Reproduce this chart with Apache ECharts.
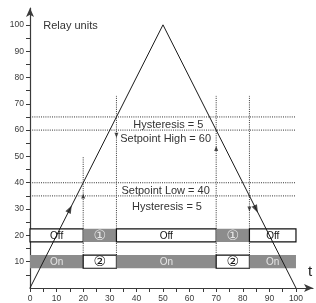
<!DOCTYPE html>
<html>
<head>
<meta charset="utf-8">
<script src="https://cdn.jsdelivr.net/npm/echarts@6/dist/echarts.min.js"></script>
<style>
  html, body { margin: 0; padding: 0; background: #fff; }
  #chart { width: 316px; height: 303px; }
</style>
</head>
<body>
<div id="chart"></div>
<script>
// triangle signal
const signalX = [0, 50, 100];
const signalY = [0, 100, 0];
// flow arrows on the signal
const flowX = [15, 85];
const flowY = [30, 30];
const flowDir = ['rise', 'fall'];

// dotted levels
const levels = [65, 60, 40, 35];
const levelEnd = 100;

// switching instants
const switchX = [20, 32.5, 70, 82.5];
const switchTop = [50, 73, 73, 73];
const switchBottom = 7.5;
// small hysteresis arrows on the verticals
const hystX = [20, 32.5, 70, 82.5];
const hystY = [35, 58, 53, 30];
const hystDir = ['up', 'down', 'up', 'down'];

// relay rows
const relayBreaks = [0, 20, 32.5, 70, 82.5, 100];
const row1Y = 20;
const row1Text = ['Off', '\u2460', 'Off', '\u2460', 'Off'];
const row1Gray = [0, 1, 0, 1, 0];
const row2Y = 10;
const row2Text = ['On', '\u2461', 'On', '\u2461', 'On'];
const row2Gray = [1, 0, 1, 0, 1];

// annotations
const noteText = ['Hysteresis = 5', 'Setpoint High = 60', 'Setpoint Low = 40', 'Hysteresis = 5'];
const noteX = [52, 51, 51, 51.5];
const noteY = [61.8, 56.5, 37, 30.7];

// axes
const xTicks = [0, 5, 10, 15, 20, 25, 30, 35, 40, 45, 50, 55, 60, 65, 70, 75, 80, 85, 90, 95, 100];
const xLabels = [0, 10, 20, 30, 40, 50, 60, 70, 80, 90, 100];
const yTicks = [5, 10, 15, 20, 25, 30, 35, 40, 45, 50, 55, 60, 65, 70, 75, 80, 85, 90, 95, 100];
const yLabels = [10, 20, 30, 40, 50, 60, 70, 80, 90, 100];

const FONT = 'Liberation Sans, Arial, Helvetica, sans-serif';
const AXIS = '#3a3a3a';
const GRAY = '#8c8c8c';

let chart = echarts.init(document.getElementById('chart'));

// relay boxes
let boxData = [];
for (let i = 0; i < relayBreaks.length - 1; i++) {
    boxData.push([relayBreaks[i], relayBreaks[i + 1], row1Y, row1Gray[i], row1Text[i]]);
    boxData.push([relayBreaks[i], relayBreaks[i + 1], row2Y, row2Gray[i], row2Text[i]]);
}

let levelSeries = levels.map(lv => ({
    type: 'line',
    data: [[0, lv], [levelEnd, lv]],
    symbol: 'none',
    silent: true,
    z: 1,
    lineStyle: { color: '#333', width: 1, type: [1, 1.2] }
}));

let switchSeries = switchX.map((x, i) => ({
    type: 'line',
    data: [[x, switchBottom], [x, switchTop[i]]],
    symbol: 'none',
    silent: true,
    z: 1,
    lineStyle: { color: '#333', width: 1, type: [1, 1.2] }
}));

const slopeDeg = Math.atan(2) * 180 / Math.PI; // angle of signal
let flowData = flowX.map((x, i) => ({
    value: [x, flowY[i]],
    symbolRotate: flowDir[i] === 'rise' ? slopeDeg - 90 : 270 - slopeDeg
}));
let hystData = hystX.map((x, i) => ({
    value: [x, hystY[i]],
    symbolRotate: hystDir[i] === 'up' ? 0 : 180
}));

const baseX = {
    type: 'value', min: 0, max: 106.4,
    splitLine: { show: false }
};
const baseY = {
    type: 'value', min: 0, max: 106.4,
    splitLine: { show: false }
};

chart.setOption({
    animation: false,
    grid: { left: 30, right: 3, top: 8, bottom: 11.3 },
    xAxis: [
        Object.assign({}, baseX, {
            axisLine: { show: true, symbol: ['none', 'arrow'], symbolSize: [6, 9], lineStyle: { color: AXIS, width: 1.2 } },
            axisTick: { show: true, customValues: xTicks, length: 4, lineStyle: { color: AXIS } },
            axisLabel: { show: true, customValues: xLabels, fontSize: 8.5, color: '#3a3a3a', margin: 6, fontFamily: FONT }
        }),
        Object.assign({}, baseX, {
            axisLine: { show: false },
            axisTick: { show: true, inside: true, customValues: xTicks, length: 4, lineStyle: { color: AXIS } },
            axisLabel: { show: false }
        })
    ],
    yAxis: [
        Object.assign({}, baseY, {
            axisLine: { show: true, symbol: ['none', 'arrow'], symbolSize: [6, 9], lineStyle: { color: AXIS, width: 1.2 } },
            axisTick: { show: true, customValues: yTicks, length: 4, lineStyle: { color: AXIS } },
            axisLabel: { show: true, customValues: yLabels, fontSize: 8.5, color: '#3a3a3a', margin: 6, fontFamily: FONT }
        }),
        Object.assign({}, baseY, {
            axisLine: { show: false },
            axisTick: { show: true, inside: true, customValues: yTicks, length: 4, lineStyle: { color: AXIS } },
            axisLabel: { show: false }
        })
    ],
    graphic: [
        { type: 'text', left: 308, top: 264, style: { text: 't', fontSize: 15, fill: '#222', fontFamily: FONT } }
    ],
    series: [
        ...levelSeries,
        ...switchSeries,
        {
            type: 'custom',
            z: 3,
            silent: true,
            data: boxData,
            renderItem: function (params, api) {
                let p0 = api.coord([api.value(0), api.value(2) + 2.5]);
                let p1 = api.coord([api.value(1), api.value(2) - 2.5]);
                let gray = api.value(3) === 1;
                let txt = boxData[params.dataIndex][4];
                let circled = txt.length === 1;
                return {
                    type: 'group',
                    children: [
                        {
                            type: 'rect',
                            shape: { x: p0[0], y: p0[1], width: p1[0] - p0[0], height: p1[1] - p0[1] },
                            style: gray ? { fill: GRAY } : { fill: '#fff', stroke: '#111', lineWidth: 1.2 }
                        },
                        {
                            type: 'text',
                            x: (p0[0] + p1[0]) / 2,
                            y: (p0[1] + p1[1]) / 2 + 0.5,
                            style: {
                                text: txt,
                                align: 'center',
                                verticalAlign: 'middle',
                                fontSize: circled ? 14 : 10,
                                fontFamily: circled ? 'DejaVu Sans, Noto Sans CJK SC, sans-serif' : FONT,
                                fill: gray ? '#e6e6e6' : '#111'
                            }
                        }
                    ]
                };
            }
        },
        {
            type: 'line',
            z: 5,
            silent: true,
            data: signalX.map((x, i) => [x, signalY[i]]),
            symbol: 'none',
            lineStyle: { color: '#1a1a1a', width: 1 }
        },
        {
            type: 'scatter',
            z: 6,
            silent: true,
            symbol: 'triangle',
            symbolSize: [6, 8],
            itemStyle: { color: '#1a1a1a' },
            data: flowData
        },
        {
            type: 'scatter',
            z: 6,
            silent: true,
            symbol: 'triangle',
            symbolSize: [4, 5],
            itemStyle: { color: '#222' },
            data: hystData
        },
        {
            type: 'custom',
            z: 7,
            silent: true,
            data: noteText.map((t, i) => [noteX[i], noteY[i]]),
            renderItem: function (params, api) {
                let p = api.coord([api.value(0), api.value(1)]);
                return {
                    type: 'text',
                    x: p[0], y: p[1],
                    style: {
                        text: noteText[params.dataIndex],
                        align: 'center', verticalAlign: 'middle',
                        fontSize: 11, fontFamily: FONT, fill: '#333'
                    }
                };
            }
        },
        {
            type: 'custom',
            z: 7,
            silent: true,
            data: [[5, 99.7]],
            renderItem: function (params, api) {
                let p = api.coord([api.value(0), api.value(1)]);
                return {
                    type: 'text',
                    x: p[0], y: p[1],
                    style: {
                        text: 'Relay units',
                        align: 'left', verticalAlign: 'middle',
                        fontSize: 11, fontFamily: FONT, fill: '#333'
                    }
                };
            }
        }
    ]
});
</script>
</body>
</html>
